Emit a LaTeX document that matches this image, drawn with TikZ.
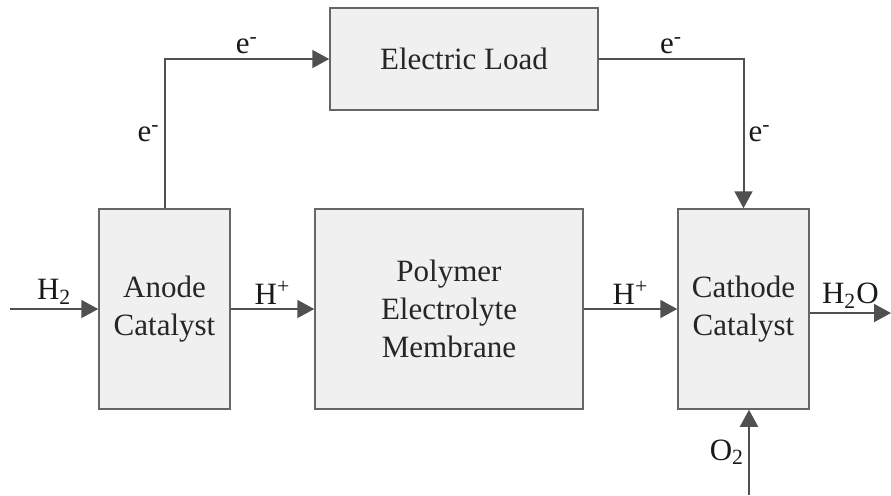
\documentclass[tikz,border=0pt]{standalone}
\usepackage{fontspec}
\setmainfont{Liberation Serif}
\usepackage{xcolor}
\usetikzlibrary{arrows.meta, positioning}

\definecolor{linegray}{HTML}{505050}
\definecolor{boxgray}{HTML}{F0F0F0}
\definecolor{edgegray}{HTML}{666666}

\begin{document}
\begin{tikzpicture}[x=0.5pt, y=-0.5pt,
    font=\fontsize{15.5}{19}\selectfont,
    block/.style={draw=edgegray, line width=0.75pt, fill=boxgray, align=center,
                  inner sep=0pt, text=black!85},
    flow/.style={draw=linegray, line width=1pt, -{Triangle[length=8.5pt, width=9pt]}},
    lbl/.style={text=black!90, inner sep=2pt}]
    \useasboundingbox (0,0) rectangle (891,495);

    % Blocks
    \node[block, minimum width=65.5pt, minimum height=100pt] (anode) at (164.5,309) {Anode\\Catalyst};
    \node[block, minimum width=134pt, minimum height=100pt] (membrane) at (449,309) {Polymer\\Electrolyte\\Membrane};
    \node[block, minimum width=65.5pt, minimum height=100pt] (cathode) at (743.5,309) {Cathode\\Catalyst};
    \node[block, minimum width=134pt, minimum height=51pt] (load) at (464,59) {Electric Load};

    % Free ends
    \coordinate (h2in) at (10,309);
    \coordinate (h2oout) at (891,313);
    \coordinate (o2in) at (749,495);

    % Reactant and ion flow
    \draw[flow] (h2in) -- node[lbl, above] {H\textsubscript{2}} (anode);
    \draw[flow] (anode) -- node[lbl, above] {H\textsuperscript{+}} (membrane);
    \draw[flow] (membrane) -- node[lbl, above] {H\textsuperscript{+}} (cathode);
    \draw[flow] (cathode.east |- h2oout) -- node[lbl, above] {H\textsubscript{2}O} (h2oout);
    \draw[flow] (o2in) -- node[lbl, left] {O\textsubscript{2}} (o2in |- cathode.south);

    % Electron path
    \draw[flow] (anode.north) |- node[lbl, pos=0.25, left] {e\textsuperscript{-}}
        node[lbl, pos=0.75, above] {e\textsuperscript{-}} (load.west);
    \draw[flow] (load.east) -| node[lbl, pos=0.25, above] {e\textsuperscript{-}}
        node[lbl, pos=0.75, right] {e\textsuperscript{-}} (cathode.north);
\end{tikzpicture}
\end{document}
